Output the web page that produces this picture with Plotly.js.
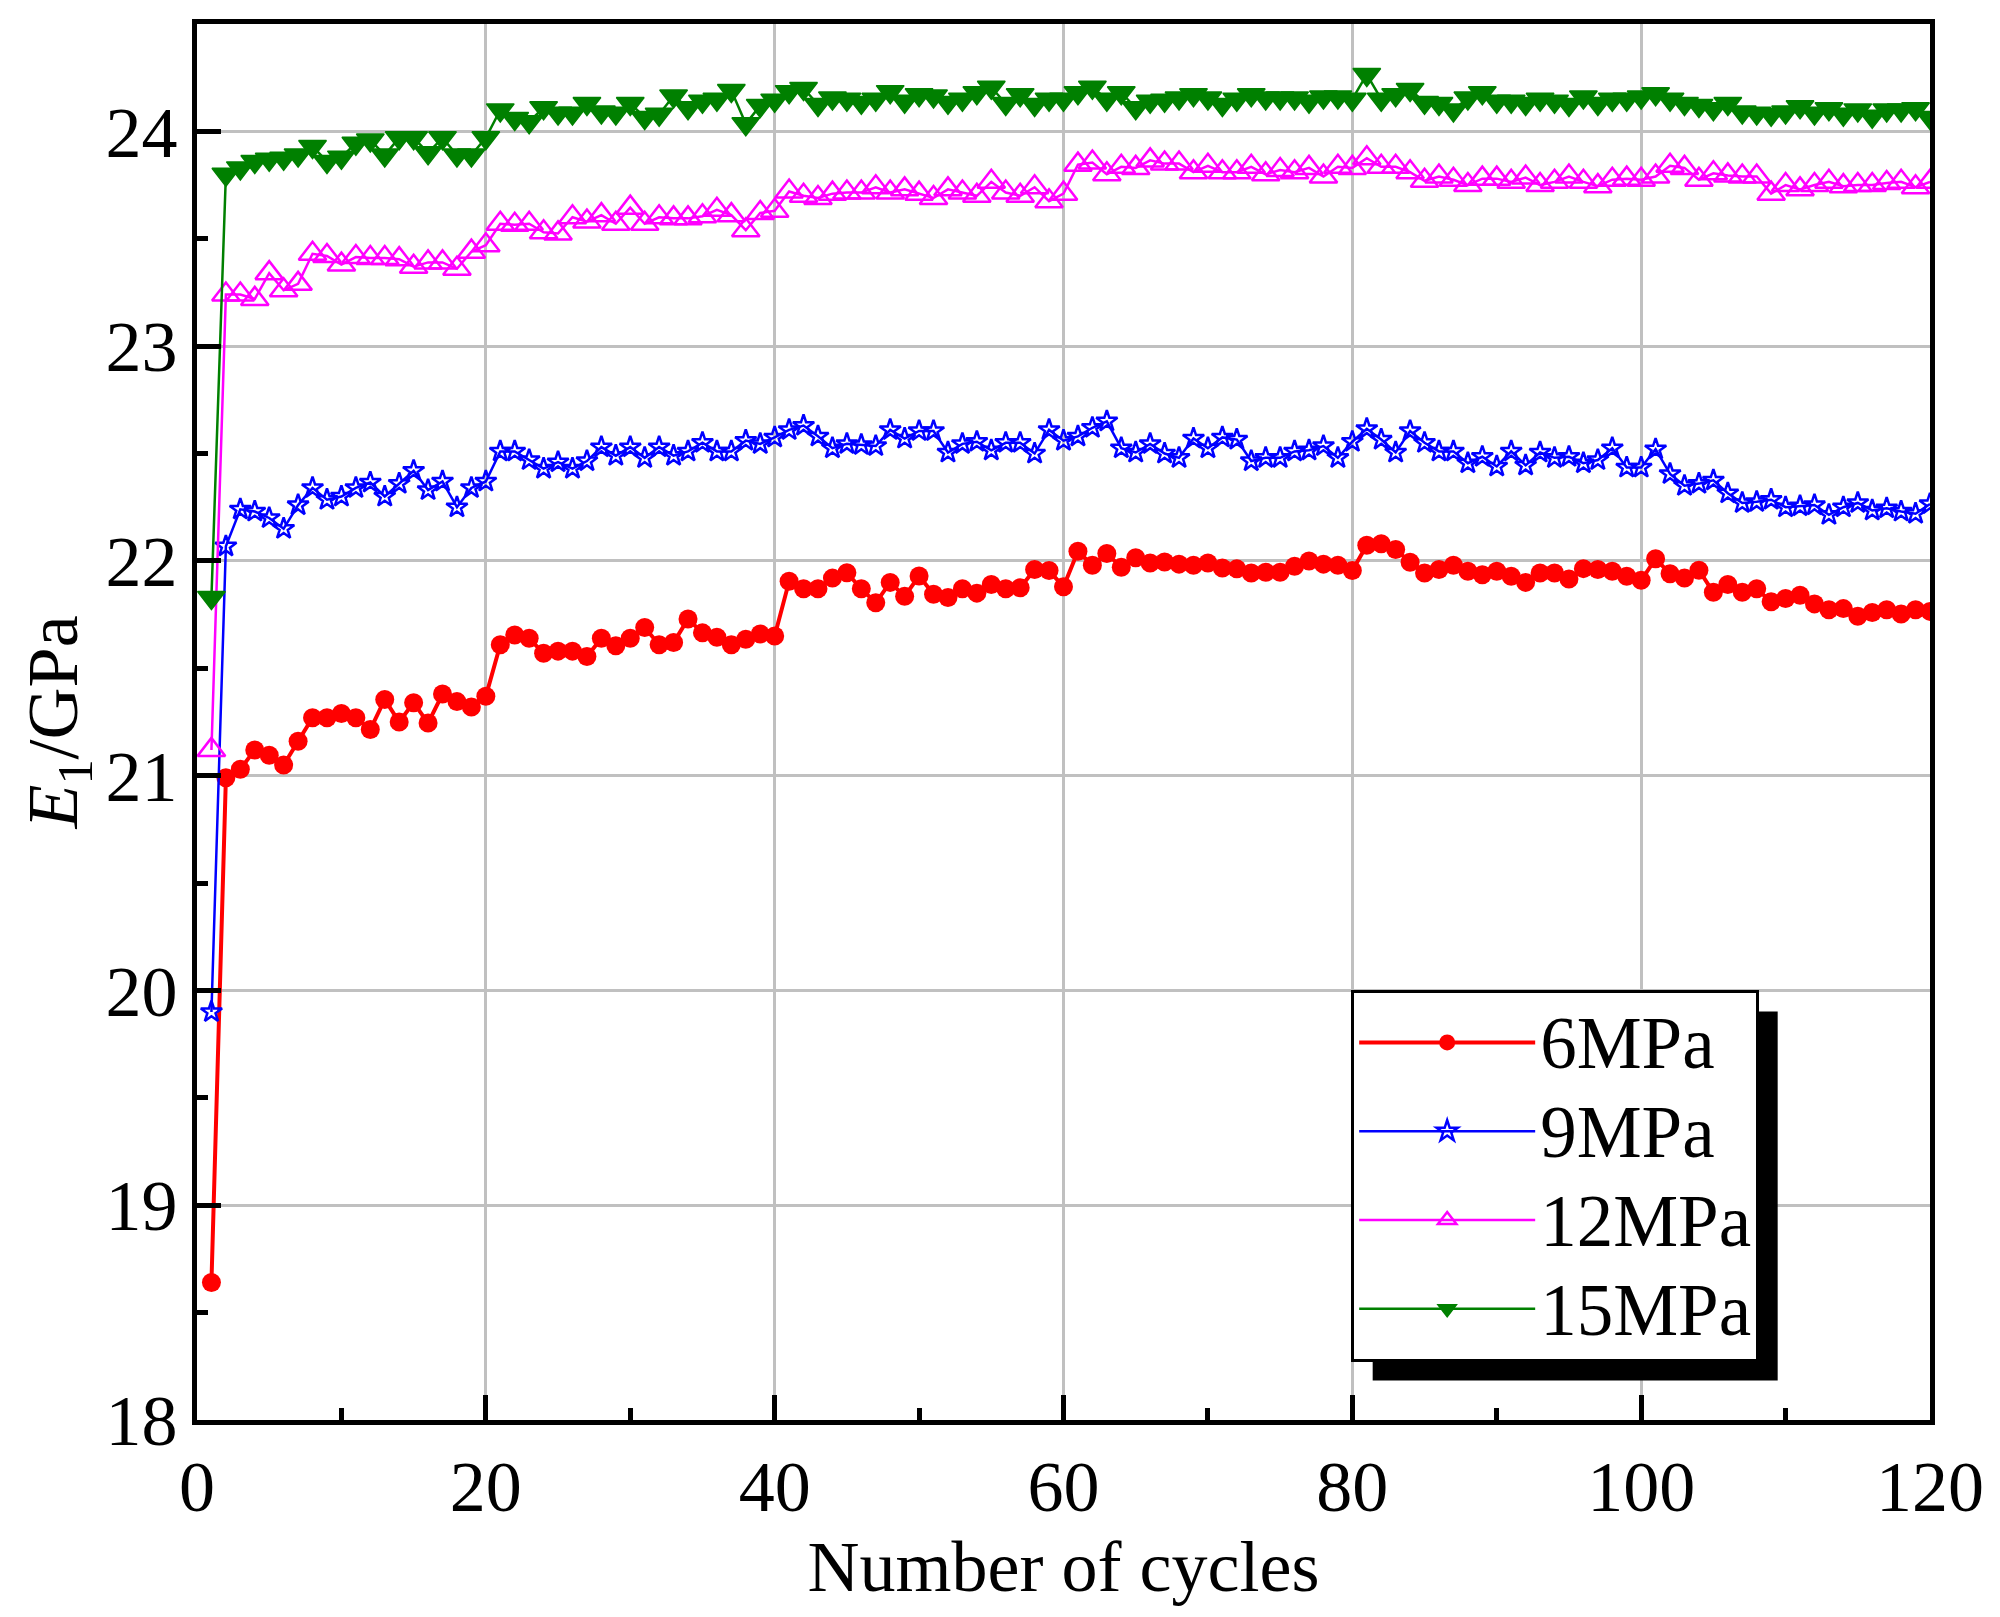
<!DOCTYPE html>
<html>
<head>
<meta charset="utf-8">
<script src="https://cdn.plot.ly/plotly-3.0.1.min.js"></script>
<style>
  html, body { margin: 0; padding: 0; background: #fff; }
  #myDiv { width: 2000px; height: 1617px; }
</style>
</head>
<body>
<div id="myDiv"></div>
<script>
// number of cycles 1..120
var cycles = [];
for (var i = 1; i <= 120; i++) cycles.push(i);

var e6MPa = [
  18.64, 20.99, 21.03, 21.12, 21.095, 21.05, 21.16, 21.27, 21.27, 21.29,
  21.27, 21.215, 21.355, 21.25, 21.34, 21.245, 21.38, 21.345, 21.32, 21.37,
  21.61, 21.655, 21.64, 21.57, 21.58, 21.58, 21.555, 21.64, 21.605, 21.64,
  21.69, 21.61, 21.62, 21.73, 21.665, 21.645, 21.61, 21.635, 21.66, 21.65,
  21.905, 21.87, 21.87, 21.92, 21.945, 21.87, 21.805, 21.90, 21.835, 21.93,
  21.845, 21.83, 21.87, 21.85, 21.89, 21.87, 21.875, 21.96, 21.955, 21.88,
  22.045, 21.98, 22.035, 21.97, 22.015, 21.99, 21.995, 21.985, 21.98, 21.99,
  21.967, 21.963, 21.944, 21.947, 21.947, 21.975, 22.00, 21.985, 21.98, 21.955,
  22.073, 22.08, 22.053, 21.994, 21.944, 21.96, 21.98, 21.952, 21.936, 21.952,
  21.929, 21.90, 21.944, 21.944, 21.916, 21.964, 21.96, 21.952, 21.929, 21.91,
  22.01, 21.94, 21.92, 21.957, 21.854, 21.89, 21.854, 21.87, 21.81, 21.825,
  21.84, 21.80, 21.773, 21.778, 21.742, 21.76, 21.773, 21.753, 21.773, 21.765
];

var e9MPa = [
  19.90, 22.068, 22.24, 22.23, 22.20, 22.15, 22.26, 22.34, 22.285, 22.30,
  22.34, 22.365, 22.30, 22.36, 22.42, 22.33, 22.37, 22.25, 22.34, 22.37,
  22.51, 22.51, 22.47, 22.43, 22.46, 22.43, 22.465, 22.53, 22.49, 22.53,
  22.48, 22.53, 22.49, 22.51, 22.55, 22.51, 22.51, 22.56, 22.545, 22.575,
  22.61, 22.63, 22.58, 22.525, 22.545, 22.54, 22.535, 22.61, 22.57, 22.605,
  22.605, 22.505, 22.545, 22.555, 22.515, 22.55, 22.55, 22.50, 22.61, 22.56,
  22.58, 22.62, 22.65, 22.525, 22.505, 22.545, 22.50, 22.48, 22.57, 22.525,
  22.575, 22.565, 22.465, 22.48, 22.48, 22.51, 22.515, 22.535, 22.48, 22.555,
  22.615, 22.565, 22.505, 22.605, 22.55, 22.51, 22.51, 22.455, 22.485, 22.44,
  22.51, 22.445, 22.505, 22.48, 22.485, 22.455, 22.47, 22.525, 22.435, 22.435,
  22.52, 22.405, 22.35, 22.36, 22.375, 22.315, 22.27, 22.275, 22.285, 22.25,
  22.255, 22.26, 22.215, 22.25, 22.27, 22.235, 22.245, 22.23, 22.22, 22.265
];

var e12MPa = [
  21.12, 23.24, 23.24, 23.22, 23.34, 23.26, 23.29, 23.43, 23.42, 23.38,
  23.415, 23.41, 23.41, 23.405, 23.37, 23.39, 23.39, 23.36, 23.44, 23.47,
  23.57, 23.565, 23.57, 23.53, 23.525, 23.60, 23.58, 23.61, 23.57, 23.645,
  23.57, 23.60, 23.595, 23.595, 23.605, 23.635, 23.61, 23.54, 23.62, 23.63,
  23.72, 23.70, 23.69, 23.71, 23.715, 23.715, 23.74, 23.715, 23.73, 23.71,
  23.69, 23.73, 23.715, 23.70, 23.765, 23.715, 23.70, 23.74, 23.675, 23.71,
  23.845, 23.855, 23.80, 23.835, 23.83, 23.865, 23.85, 23.85, 23.81, 23.84,
  23.81, 23.81, 23.835, 23.80, 23.82, 23.81, 23.83, 23.79, 23.835, 23.83,
  23.875, 23.835, 23.835, 23.81, 23.77, 23.79, 23.775, 23.75, 23.78, 23.78,
  23.765, 23.785, 23.75, 23.765, 23.79, 23.765, 23.745, 23.775, 23.78, 23.775,
  23.79, 23.84, 23.83, 23.775, 23.805, 23.795, 23.79, 23.79, 23.71, 23.75,
  23.73, 23.75, 23.765, 23.745, 23.75, 23.75, 23.76, 23.765, 23.74, 23.765
];

var e15MPa = [
  21.83, 23.80, 23.83, 23.86, 23.87, 23.875, 23.89, 23.93, 23.86, 23.88,
  23.945, 23.96, 23.89, 23.97, 23.97, 23.90, 23.97, 23.89, 23.89, 23.97,
  24.10, 24.06, 24.045, 24.11, 24.085, 24.085, 24.13, 24.09, 24.085, 24.13,
  24.065, 24.08, 24.165, 24.11, 24.14, 24.15, 24.19, 24.035, 24.12, 24.145,
  24.185, 24.20, 24.125, 24.155, 24.15, 24.135, 24.15, 24.185, 24.14, 24.17,
  24.165, 24.135, 24.15, 24.18, 24.205, 24.13, 24.17, 24.125, 24.15, 24.15,
  24.18, 24.205, 24.15, 24.18, 24.11, 24.14, 24.145, 24.155, 24.17, 24.155,
  24.125, 24.15, 24.17, 24.155, 24.155, 24.155, 24.14, 24.16, 24.16, 24.15,
  24.265, 24.15, 24.17, 24.195, 24.135, 24.13, 24.10, 24.155, 24.18, 24.14,
  24.14, 24.13, 24.15, 24.14, 24.125, 24.16, 24.13, 24.15, 24.15, 24.16,
  24.175, 24.15, 24.13, 24.12, 24.105, 24.13, 24.09, 24.085, 24.08, 24.09,
  24.115, 24.085, 24.105, 24.08, 24.10, 24.07, 24.10, 24.10, 24.105, 24.065
];

var seriesNames = ["6MPa", "9MPa", "12MPa", "15MPa"];

var font = "Liberation Serif";

// legend rows are spaced from the legend font size; the label itself is drawn larger
function legendName(s) {
  return "<span style='font-size:73px'>" + s + "</span>";
}

var trace1 = {
  x: cycles, y: e6MPa, name: legendName(seriesNames[0]),
  type: "scatter", mode: "lines+markers",
  line: {color: "#ff0000", width: 4},
  marker: {symbol: "circle", size: 19, color: "#ff0000"}
};
var trace2 = {
  x: cycles, y: e9MPa, name: legendName(seriesNames[1]),
  type: "scatter", mode: "lines+markers",
  line: {color: "#0000ff", width: 2.5},
  marker: {symbol: "star-open", size: 16, color: "#0000ff", line: {color: "#0000ff", width: 2.5}}
};
var trace3 = {
  x: cycles, y: e12MPa, name: legendName(seriesNames[2]),
  type: "scatter", mode: "lines+markers",
  line: {color: "#ff00ff", width: 2.5},
  marker: {symbol: "triangle-up-open", size: 24, color: "#ff00ff", line: {color: "#ff00ff", width: 2.5}}
};
var trace4 = {
  x: cycles, y: e15MPa, name: legendName(seriesNames[3]),
  type: "scatter", mode: "lines+markers",
  line: {color: "#008000", width: 2.5},
  marker: {symbol: "triangle-down", size: 24, color: "#008000", line: {color: "#008000", width: 1.5}}
};

var data = [trace1, trace2, trace3, trace4];

var layout = {
  width: 2000,
  height: 1617,
  margin: {l: 197, r: 70, t: 24, b: 197},
  paper_bgcolor: "#fff",
  plot_bgcolor: "#fff",
  font: {family: font, size: 72, color: "#000"},
  showlegend: true,
  legend: {
    x: 0.666, y: 0.308, xanchor: "left", yanchor: "top",
    bgcolor: "#fff", bordercolor: "#000", borderwidth: 3,
    font: {family: font, size: 66, color: "#000"},
    itemwidth: 176
  },
  xaxis: {
    range: [0, 120],
    dtick: 20, tick0: 0,
    ticks: "inside", ticklen: 25, tickwidth: 5, tickcolor: "#000",
    showline: true, linewidth: 5, linecolor: "#000", mirror: true,
    showgrid: true, gridcolor: "#c0c0c0", gridwidth: 3,
    zeroline: false,
    minor: {dtick: 10, ticks: "inside", ticklen: 12, tickwidth: 5, tickcolor: "#000", showgrid: false},
    tickfont: {family: font, size: 72},
    title: {text: "Number of cycles", font: {family: font, size: 72}, standoff: 0}
  },
  yaxis: {
    range: [18, 24.5],
    dtick: 1, tick0: 18,
    ticks: "inside", ticklen: 24, tickwidth: 5, tickcolor: "#000",
    showline: true, linewidth: 5, linecolor: "#000", mirror: true,
    showgrid: true, gridcolor: "#c0c0c0", gridwidth: 3,
    zeroline: false,
    minor: {dtick: 0.5, ticks: "inside", ticklen: 11, tickwidth: 5, tickcolor: "#000", showgrid: false},
    tickfont: {family: font, size: 72},
    ticklabelstandoff: 0,
    title: {text: "<i>E</i><sub>1</sub>/GPa", font: {family: font, size: 72}, standoff: 6}
  }
};

Plotly.newPlot("myDiv", data, layout, {displayModeBar: false, staticPlot: true}).then(function (gd) {
  // drop shadow behind the legend box, offset down-right like the original
  var bg = gd.querySelector(".legend .bg");
  if (!bg) return;
  var r = bg.getBoundingClientRect();
  var d = gd.getBoundingClientRect();
  var s = gd._fullLayout._size;
  var off = 20;
  var px = function (v) { return (v - d.left - s.l) / s.w; };
  var py = function (v) { return 1 - (v - d.top - s.t) / s.h; };
  Plotly.relayout(gd, {
    shapes: [{
      type: "rect", xref: "paper", yref: "paper",
      x0: px(r.left + off), x1: px(r.right + off),
      y0: py(r.bottom + off), y1: py(r.top + off),
      fillcolor: "#000", line: {width: 0}, layer: "above"
    }]
  });
});
</script>
</body>
</html>
